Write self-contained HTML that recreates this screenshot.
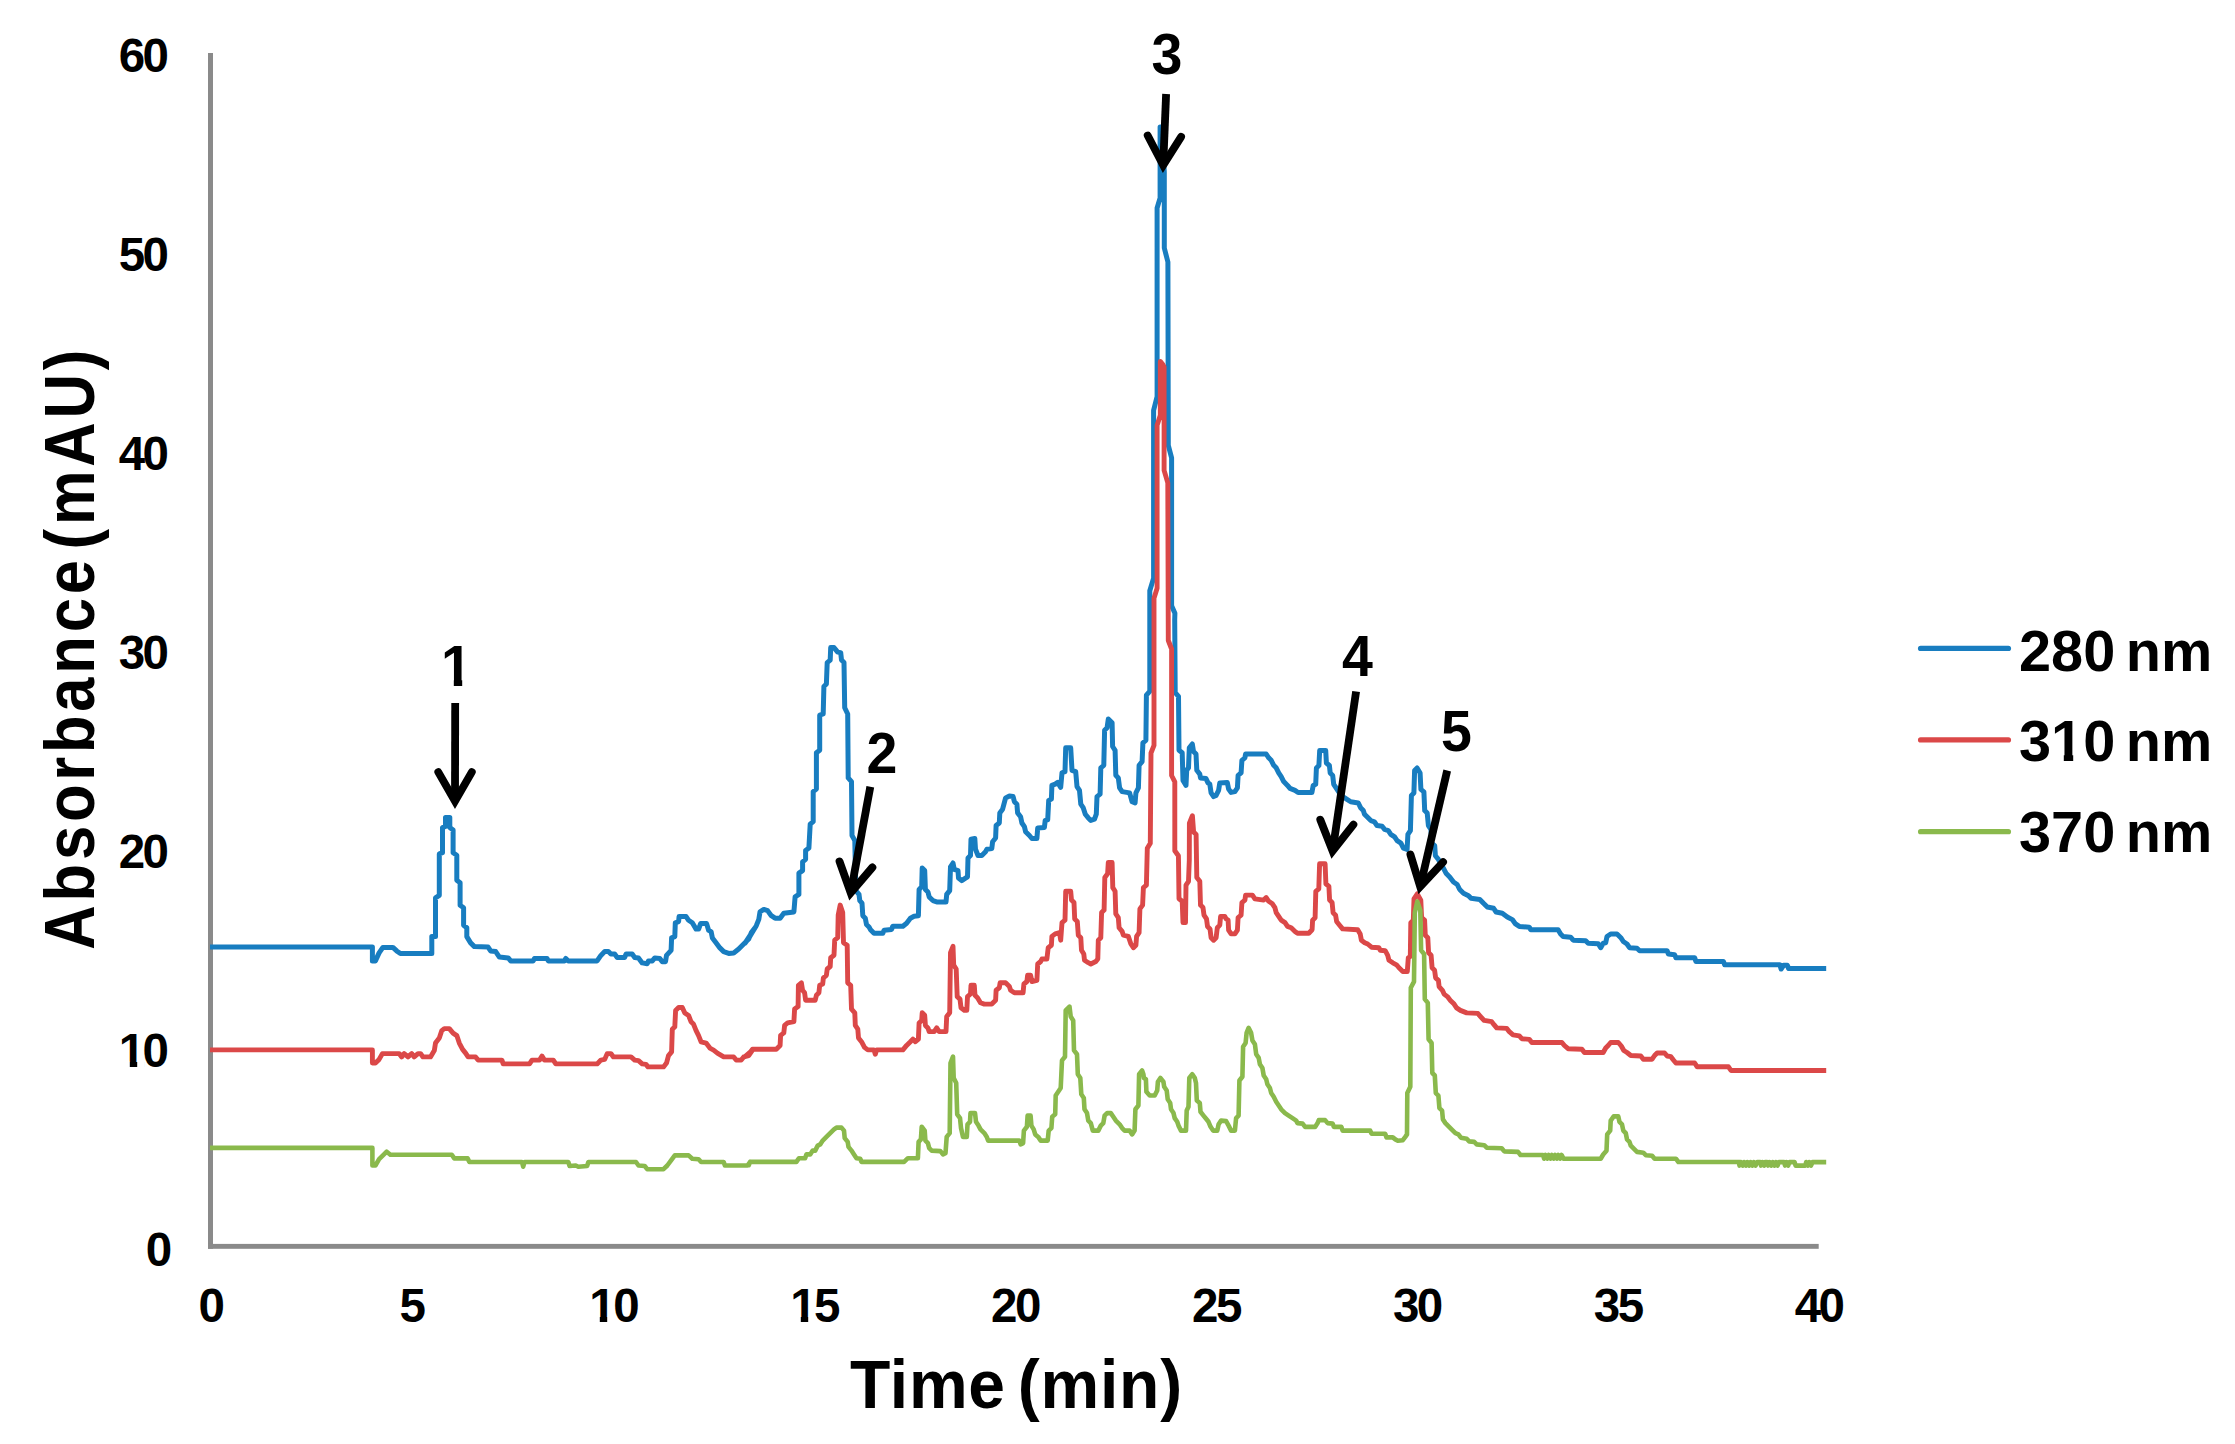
<!DOCTYPE html>
<html lang="en"><head><meta charset="utf-8"><title>HPLC chromatogram</title>
<style>
html,body{margin:0;padding:0;background:#fff;}
body{width:2235px;height:1444px;overflow:hidden;}
svg{display:block;}
text{font-family:"Liberation Sans",sans-serif;font-weight:bold;fill:#000;}
.tick{font-size:47.5px;letter-spacing:-2.5px;}
.leg{font-size:57.7px;word-spacing:-5.6px;}
.ann{font-size:55.5px;}
.title{font-size:66px;letter-spacing:0.75px;word-spacing:-7px;}
.ytitle{font-size:61.5px;letter-spacing:3.8px;word-spacing:-14px;}
.curve{fill:none;stroke-linejoin:round;stroke-linecap:butt;}
.shaft{fill:none;stroke:#000;stroke-width:7.8;stroke-linecap:butt;}
.head{fill:none;stroke:#000;stroke-width:7.8;stroke-linecap:round;stroke-linejoin:miter;stroke-miterlimit:10;}
</style></head>
<body>
<svg width="2235" height="1444" viewBox="0 0 2235 1444">
<rect width="2235" height="1444" fill="#fff"/>
<g id="axes">
<rect x="208" y="53" width="5" height="1195.8" fill="#8a8a8a"/>
<rect x="208" y="1243.9" width="1610.7" height="4.9" fill="#8a8a8a"/>
</g>
<g id="yticks">
<text class="tick" text-anchor="end" transform="translate(169.7,1265.5) scale(1,1.000)">0</text>
<text class="tick" text-anchor="end" transform="translate(166.5,1066.6) scale(1,1.000)">10</text>
<text class="tick" text-anchor="end" transform="translate(166.5,867.7) scale(1,1.000)">20</text>
<text class="tick" text-anchor="end" transform="translate(166.5,668.8) scale(1,1.000)">30</text>
<text class="tick" text-anchor="end" transform="translate(166.5,469.9) scale(1,1.000)">40</text>
<text class="tick" text-anchor="end" transform="translate(166.5,271.0) scale(1,1.000)">50</text>
<text class="tick" text-anchor="end" transform="translate(166.5,72.1) scale(1,1.000)">60</text>
</g>
<g id="xticks">
<text class="tick" text-anchor="middle" transform="translate(210.5,1321.8) scale(1,1.000)">0</text>
<text class="tick" text-anchor="middle" transform="translate(411.4,1321.8) scale(1,1.000)">5</text>
<text class="tick" text-anchor="middle" transform="translate(613.2,1321.8) scale(1,1.000)">10</text>
<text class="tick" text-anchor="middle" transform="translate(814.1,1321.8) scale(1,1.000)">15</text>
<text class="tick" text-anchor="middle" transform="translate(1015.0,1321.8) scale(1,1.000)">20</text>
<text class="tick" text-anchor="middle" transform="translate(1215.9,1321.8) scale(1,1.000)">25</text>
<text class="tick" text-anchor="middle" transform="translate(1416.8,1321.8) scale(1,1.000)">30</text>
<text class="tick" text-anchor="middle" transform="translate(1617.7,1321.8) scale(1,1.000)">35</text>
<text class="tick" text-anchor="middle" transform="translate(1818.6,1321.8) scale(1,1.000)">40</text>
</g>
<text class="title" text-anchor="middle" transform="translate(1016.4,1407.8) scale(1,1.048)">Time (min)</text>
<text class="ytitle" text-anchor="middle" transform="translate(93.5,647.8) rotate(-90) scale(1,1.151)">Absorbance (mAU)</text>
<g id="curves">
<polyline class="curve" stroke="#187dc0" stroke-width="5.0" points="210.0,947.1 372.4,947.1 372.4,960.9 375.4,960.9 379.1,952.9 382.9,947.4 392.9,947.4 396.7,950.9 400.4,953.6 431.8,953.6 431.8,936.6 435.5,936.6 435.5,897.8 439.3,895.3 439.3,853.9 442.5,852.7 442.5,827.6 445.5,826.4 445.5,817.6 449.8,817.6 449.8,827.6 453.1,830.1 453.1,852.7 456.8,855.2 456.8,880.2 460.1,882.7 460.1,905.3 463.6,907.8 463.6,925.3 466.8,927.8 466.8,936.6 470.6,942.9 474.4,946.6 488.1,947.1 490.6,950.9 495.7,951.6 499.4,957.1 508.2,957.9 510.7,960.9 533.2,960.9 534.5,958.4 547.0,958.4 548.3,960.9 564.6,960.9 565.8,958.4 568.3,960.9 597.1,960.9 600.9,955.4 604.7,951.6 608.4,951.6 610.9,954.1 614.7,954.1 617.2,957.4 624.7,957.4 626.0,954.1 632.2,954.1 634.7,957.4 638.5,957.9 642.2,962.9 647.2,963.7 648.5,960.9 652.3,960.9 654.8,957.9 659.8,958.4 662.3,961.7 665.5,961.7 666.5,955.4 671.1,950.4 671.6,937.9 674.8,936.6 675.3,922.8 678.6,921.6 679.1,916.6 686.1,916.6 688.6,920.3 692.3,922.8 696.1,929.1 698.6,929.1 700.6,923.6 706.6,923.6 708.6,930.3 711.1,931.6 712.4,937.9 716.2,942.9 719.9,947.9 723.7,951.6 728.7,953.4 733.7,952.9 738.7,949.1 743.7,944.1 748.7,939.1 751.2,932.8 755.0,927.8 745.0,943.2 748.8,938.2 752.5,931.9 756.3,925.7 758.8,919.4 760.0,911.9 763.8,909.4 767.6,910.6 771.3,915.7 775.1,918.2 780.1,918.2 783.8,913.2 793.9,911.9 795.1,896.9 798.9,894.4 798.9,873.1 802.6,870.6 802.6,861.8 805.6,859.3 805.6,850.5 808.9,848.0 810.2,824.2 813.2,821.7 813.2,791.6 816.4,789.1 816.4,752.8 819.7,750.3 819.7,715.2 823.2,714.0 823.9,686.4 826.4,683.9 827.2,662.6 830.2,660.1 830.7,647.6 834.0,647.6 837.7,652.1 840.7,652.6 841.5,660.1 844.0,662.6 844.7,707.7 847.7,714.0 848.2,777.9 851.5,781.6 852.0,835.5 854.8,840.5 855.8,890.6 859.0,894.4 859.8,900.6 862.0,903.1 862.8,915.7 865.3,918.2 866.5,924.4 869.0,926.9 870.3,929.4 874.0,933.2 882.8,933.2 884.1,930.2 891.6,929.4 892.8,926.2 902.9,926.2 906.6,923.2 910.4,918.2 914.1,916.2 918.4,915.7 919.1,889.4 921.7,886.8 922.2,868.1 924.7,870.6 925.4,889.4 927.9,891.9 929.2,896.9 932.9,900.6 936.7,901.9 946.0,901.9 946.7,894.4 949.7,890.6 950.5,866.8 953.0,863.0 954.2,869.3 958.0,870.6 958.5,878.1 961.7,880.6 965.5,878.1 967.5,876.8 968.0,858.0 970.5,855.5 971.0,839.2 974.8,838.5 975.5,849.3 978.0,855.5 981.8,855.5 985.5,851.8 986.8,849.3 991.8,848.5 992.6,841.7 995.6,838.0 996.1,825.5 999.3,823.0 999.8,812.9 1002.6,809.2 1005.6,797.9 1009.4,796.1 1013.1,796.6 1014.4,801.7 1016.9,804.2 1017.6,812.9 1020.6,816.7 1021.9,823.0 1024.4,826.7 1025.6,831.7 1029.4,835.5 1031.9,838.5 1036.9,838.5 1037.7,828.0 1044.4,827.5 1045.2,820.4 1047.7,819.9 1048.7,800.4 1051.4,799.1 1051.9,785.4 1055.2,784.1 1057.7,782.4 1060.7,787.4 1062.0,772.8 1065.0,771.6 1065.7,747.8 1070.7,747.8 1072.0,770.3 1075.7,771.6 1077.0,786.6 1079.5,790.4 1080.8,804.2 1083.3,807.9 1085.3,814.2 1088.3,817.9 1090.8,820.4 1094.5,819.2 1096.3,814.2 1097.0,796.6 1100.1,794.1 1100.8,767.8 1103.8,765.3 1104.6,730.2 1107.1,727.7 1108.3,719.0 1112.1,722.7 1112.6,746.5 1115.1,750.3 1115.8,775.3 1118.3,777.9 1119.6,787.9 1122.1,791.6 1129.6,792.9 1132.1,801.7 1135.1,802.9 1135.9,792.9 1138.4,787.9 1139.1,765.3 1142.1,761.6 1142.9,742.8 1145.9,740.3 1146.4,695.2 1149.7,691.4 1149.8,691.0 1149.8,590.7 1153.6,578.1 1153.6,410.3 1157.1,396.5 1157.1,208.0 1160.1,198.0 1160.1,127.0 1161.5,127.0 1164.3,172.0 1164.3,248.0 1167.9,262.0 1168.3,445.3 1171.6,457.9 1171.6,605.7 1174.9,613.2 1174.7,620.0 1175.2,692.7 1178.5,696.4 1179.0,750.3 1182.2,752.8 1183.0,780.4 1186.0,785.4 1186.7,770.3 1188.5,767.8 1189.3,747.8 1192.3,744.0 1193.5,751.5 1196.0,754.0 1196.8,770.3 1199.8,774.1 1200.5,777.9 1206.0,778.6 1208.0,782.9 1209.8,784.1 1211.1,792.9 1213.6,796.6 1216.1,795.4 1218.6,790.4 1219.8,782.9 1227.3,782.4 1228.6,789.1 1231.1,792.4 1234.9,791.6 1237.4,787.9 1238.1,775.3 1241.1,772.8 1241.9,760.3 1244.9,757.8 1245.6,754.0 1266.2,754.0 1268.7,757.8 1271.2,760.3 1273.7,765.3 1276.2,767.8 1278.7,772.8 1281.2,776.6 1283.7,781.6 1287.5,785.4 1290.0,788.4 1295.0,790.4 1298.1,792.5 1311.9,792.5 1313.2,785.5 1315.7,784.3 1316.4,768.0 1318.9,765.5 1319.7,750.4 1325.7,750.4 1326.4,763.0 1329.4,765.5 1330.2,773.0 1332.7,775.5 1333.7,784.3 1336.2,788.0 1339.5,793.0 1343.2,796.8 1347.0,799.3 1350.7,801.8 1358.3,803.0 1360.8,808.1 1363.3,810.6 1364.5,814.3 1368.3,818.1 1370.8,820.6 1374.5,821.8 1377.0,825.6 1382.1,826.3 1384.6,829.4 1388.3,830.6 1390.8,834.4 1394.6,836.9 1397.1,840.6 1400.9,843.1 1403.4,848.1 1407.1,849.4 1407.9,834.4 1410.4,830.6 1411.4,795.5 1413.9,793.0 1414.6,770.5 1417.1,768.0 1420.1,773.0 1420.9,789.3 1423.9,791.8 1424.7,810.6 1427.2,813.1 1428.4,825.6 1430.9,829.4 1431.7,843.1 1434.7,845.6 1435.4,855.7 1438.4,859.4 1440.9,864.4 1443.4,868.2 1446.0,873.2 1449.7,877.0 1453.5,882.0 1457.2,884.5 1459.7,889.5 1463.5,893.2 1468.5,895.7 1471.0,898.3 1479.8,899.5 1483.5,903.3 1487.3,907.0 1493.6,908.3 1496.1,912.0 1502.3,913.3 1507.3,917.0 1512.3,919.6 1515.5,923.9 1519.3,926.4 1529.3,927.2 1530.6,929.7 1558.1,929.7 1560.6,934.0 1563.1,936.5 1570.6,937.2 1573.2,940.2 1585.7,940.7 1588.2,943.2 1598.2,943.7 1600.7,947.7 1603.2,943.2 1605.7,942.7 1607.0,936.5 1610.7,934.0 1617.0,934.0 1620.8,937.7 1623.3,941.5 1627.0,944.0 1629.5,947.7 1637.0,948.2 1639.6,950.7 1667.1,950.7 1668.4,954.0 1674.6,954.8 1675.9,957.8 1694.7,957.8 1695.9,961.5 1723.5,961.5 1724.7,964.8 1779.9,964.8 1781.1,969.0 1783.6,965.3 1787.4,965.3 1788.6,968.5 1826.2,968.5"/>
<polyline class="curve" stroke="#db4848" stroke-width="4.9" points="210.0,1049.9 372.4,1049.9 372.4,1063.1 375.4,1063.1 379.1,1059.4 382.4,1053.6 399.2,1053.6 401.7,1056.9 404.2,1053.6 408.0,1056.9 411.7,1053.6 414.2,1056.9 418.0,1053.6 420.5,1053.6 423.0,1056.9 430.5,1056.9 434.3,1050.6 435.5,1043.1 439.3,1038.1 441.8,1030.6 444.3,1028.6 449.3,1028.6 453.1,1033.1 456.8,1035.6 459.3,1043.1 462.6,1049.4 465.6,1053.1 468.1,1056.9 475.6,1056.9 478.1,1060.1 501.9,1060.1 503.2,1063.9 529.5,1063.9 532.0,1060.1 539.5,1060.1 542.0,1056.1 544.5,1060.1 553.3,1060.1 555.8,1063.9 597.1,1063.9 600.9,1060.1 604.7,1059.4 607.2,1053.6 610.9,1053.6 613.4,1056.9 631.0,1056.9 634.7,1060.1 638.5,1060.6 642.2,1063.9 646.0,1064.4 648.0,1066.9 663.5,1066.9 666.5,1063.1 668.5,1055.6 671.6,1051.9 672.3,1029.3 674.8,1026.8 675.6,1010.5 678.6,1007.5 682.3,1007.5 684.8,1013.0 688.6,1015.5 691.1,1021.8 693.6,1024.3 696.1,1030.6 698.6,1035.6 701.1,1041.8 706.1,1043.1 709.9,1048.1 713.6,1050.1 717.4,1053.1 723.7,1056.9 733.7,1056.9 736.2,1060.1 741.2,1060.1 743.7,1056.9 748.7,1055.6 752.5,1050.1 745.0,1056.7 748.8,1054.2 752.5,1049.2 776.3,1049.2 780.1,1045.4 780.6,1035.4 783.8,1032.9 784.6,1025.4 787.6,1022.9 793.9,1021.6 794.6,1009.1 798.1,1006.6 798.4,985.3 801.4,982.8 802.6,990.3 804.6,992.8 805.6,1000.3 815.2,1000.3 816.4,995.3 818.9,992.8 819.7,985.3 822.7,984.0 823.4,977.8 826.4,975.3 827.2,969.0 830.2,966.5 830.7,957.7 834.0,955.2 834.7,940.2 837.7,937.7 838.2,915.1 840.2,905.1 842.7,912.6 843.5,942.7 847.2,945.2 847.7,982.8 850.7,985.3 851.5,1009.1 854.8,1012.8 855.3,1025.4 857.8,1029.1 858.5,1037.9 861.5,1041.7 864.5,1047.4 867.8,1049.9 874.0,1049.9 875.3,1054.2 876.6,1049.9 902.9,1049.9 906.6,1045.4 910.4,1041.7 912.9,1039.1 915.4,1041.7 918.4,1039.1 919.1,1022.9 921.7,1020.4 922.2,1012.8 924.7,1015.3 925.4,1025.4 927.9,1027.9 929.2,1031.6 934.2,1031.6 936.7,1027.9 939.2,1031.6 946.0,1031.6 946.7,1016.6 949.7,1012.8 950.5,952.7 953.0,946.4 953.7,965.2 956.2,969.0 957.2,996.6 960.0,999.1 961.0,1007.8 964.3,1010.3 966.8,1010.3 967.5,996.6 970.5,994.0 971.0,985.3 974.3,985.3 975.0,995.3 977.5,997.8 980.5,1002.8 984.3,1004.1 991.8,1004.1 995.6,1000.3 996.1,990.3 999.3,987.8 1000.1,982.8 1005.6,982.8 1009.4,986.5 1010.6,990.3 1014.4,992.8 1023.1,992.8 1023.9,984.0 1026.9,981.5 1027.6,975.3 1030.6,975.3 1031.9,981.5 1036.9,980.3 1037.7,964.0 1040.7,961.5 1041.9,959.0 1046.9,959.0 1048.2,947.7 1051.4,945.2 1051.9,936.4 1055.2,933.9 1059.5,932.7 1060.7,940.2 1062.0,922.6 1065.0,920.1 1065.7,891.3 1070.7,891.3 1071.5,900.1 1074.0,902.6 1074.7,918.9 1077.3,921.4 1078.3,935.2 1080.8,937.7 1081.5,950.2 1083.8,954.0 1084.5,960.2 1088.3,962.7 1090.8,964.0 1095.8,961.5 1097.8,959.0 1098.3,940.2 1100.8,937.7 1101.6,912.6 1104.1,910.1 1104.8,877.5 1107.6,873.8 1108.3,862.5 1112.1,862.5 1112.8,887.6 1115.1,891.3 1115.8,913.9 1118.3,917.6 1119.1,927.7 1122.1,931.4 1123.4,935.2 1128.4,936.4 1130.9,943.9 1133.4,947.7 1135.9,945.2 1136.6,936.4 1139.1,932.7 1139.9,908.9 1142.6,905.1 1143.4,887.6 1146.4,885.1 1147.3,848.2 1150.3,843.2 1151.0,753.0 1154.0,745.4 1154.0,598.2 1157.1,588.2 1157.1,425.3 1160.3,415.3 1160.3,361.4 1162.5,364.0 1164.1,367.0 1164.1,470.4 1167.8,482.9 1168.3,640.5 1171.6,649.0 1171.6,775.5 1174.8,781.8 1174.8,850.7 1178.4,855.7 1178.5,860.0 1179.0,898.8 1182.2,901.3 1183.0,922.6 1185.5,922.6 1186.0,885.1 1188.5,881.3 1189.3,860.0 1189.4,823.2 1192.4,815.7 1193.6,831.9 1196.1,834.4 1196.8,877.5 1199.8,881.3 1200.5,905.1 1203.0,907.6 1204.0,915.1 1206.5,918.9 1207.5,926.4 1210.0,928.9 1211.1,937.7 1213.6,940.2 1216.1,937.7 1217.3,927.7 1219.8,925.1 1220.6,916.4 1224.8,916.4 1226.1,918.9 1228.1,920.1 1228.6,930.2 1231.1,933.9 1234.9,933.9 1237.4,930.2 1238.1,917.6 1241.1,915.1 1241.9,902.6 1244.9,900.1 1245.6,895.1 1252.4,895.1 1254.9,898.8 1263.7,900.1 1266.2,897.6 1268.7,901.3 1272.4,903.8 1274.9,907.6 1276.2,912.6 1278.7,916.4 1281.2,920.1 1285.0,922.6 1287.5,926.4 1291.2,927.7 1295.0,931.4 1297.5,933.2 1308.8,933.2 1312.1,929.7 1312.6,920.2 1315.1,917.7 1315.8,891.4 1318.8,888.9 1319.6,863.8 1325.1,863.8 1325.9,883.8 1328.9,886.4 1329.6,900.1 1332.1,902.6 1333.1,912.7 1335.6,915.2 1336.6,921.4 1339.6,925.2 1342.6,928.9 1357.7,929.7 1360.2,934.0 1361.4,940.2 1364.7,942.7 1367.7,944.0 1371.5,947.2 1379.0,947.7 1380.2,950.2 1385.2,950.7 1387.7,955.3 1389.0,960.3 1392.8,962.8 1396.5,964.8 1399.0,967.8 1402.8,971.5 1407.3,971.5 1408.3,957.8 1410.3,956.5 1410.8,922.7 1413.3,920.2 1414.0,898.9 1417.3,893.9 1420.8,900.1 1421.6,917.7 1424.6,920.2 1425.3,935.2 1427.8,937.7 1428.6,952.8 1431.1,955.3 1432.1,967.8 1434.6,970.3 1435.6,977.8 1438.4,980.3 1439.1,986.6 1442.4,990.3 1444.1,994.1 1447.4,996.6 1450.4,1000.4 1454.1,1004.1 1456.6,1007.9 1460.4,1010.4 1466.7,1012.9 1477.9,1013.4 1480.4,1016.6 1484.2,1020.4 1491.7,1021.7 1494.2,1024.9 1496.7,1027.9 1506.8,1028.4 1509.3,1031.7 1513.0,1034.9 1519.3,1035.9 1521.8,1038.7 1529.3,1039.4 1531.8,1042.5 1561.9,1042.5 1564.4,1045.5 1568.1,1048.7 1581.9,1049.2 1584.4,1052.5 1603.2,1052.5 1605.7,1048.0 1608.2,1045.5 1610.7,1042.5 1618.3,1042.5 1621.3,1046.0 1623.8,1050.5 1627.0,1052.5 1630.8,1055.5 1640.8,1056.0 1643.3,1059.2 1652.1,1059.2 1654.6,1055.5 1657.1,1053.0 1664.6,1053.0 1667.1,1056.0 1670.9,1056.7 1673.4,1060.0 1675.9,1063.0 1694.7,1063.0 1697.2,1066.8 1728.5,1066.8 1731.0,1070.5 1826.2,1070.5"/>
<polyline class="curve" stroke="#8ab94c" stroke-width="4.6" points="210.0,1147.9 372.4,1147.9 372.4,1165.5 375.4,1165.5 379.1,1159.2 384.2,1154.2 386.7,1151.7 390.4,1154.7 451.8,1154.7 454.3,1158.4 467.6,1158.4 469.4,1162.0 522.0,1162.0 523.2,1166.7 524.5,1162.0 568.3,1162.0 569.6,1166.0 575.8,1165.5 578.3,1166.7 587.1,1166.0 588.4,1162.0 636.0,1162.0 638.5,1165.5 644.7,1166.0 647.2,1169.2 663.5,1169.2 667.3,1165.5 671.1,1160.4 674.8,1155.4 688.6,1155.4 692.3,1158.7 698.6,1159.2 701.1,1162.0 723.7,1162.0 724.9,1165.5 747.5,1165.5 750.0,1162.0 748.8,1165.2 750.0,1161.9 796.4,1161.9 798.9,1158.2 805.1,1158.2 806.4,1154.4 810.2,1154.4 812.7,1150.6 815.2,1150.6 817.7,1145.6 820.2,1144.4 822.7,1140.6 826.4,1136.9 830.2,1133.1 834.0,1129.4 836.5,1127.6 841.5,1127.6 844.0,1130.6 844.7,1138.1 847.7,1141.9 848.5,1146.9 851.5,1150.6 854.0,1154.4 856.5,1158.2 860.3,1158.7 861.5,1161.9 904.1,1161.9 907.9,1158.2 917.9,1158.2 918.6,1141.9 920.9,1139.4 921.7,1126.8 924.7,1130.6 925.4,1140.6 927.9,1143.1 929.2,1148.1 931.7,1150.6 940.4,1151.1 943.0,1154.4 945.5,1153.2 946.7,1136.9 949.7,1133.1 950.5,1063.0 953.0,1056.7 953.7,1078.0 956.2,1083.0 957.2,1114.3 960.0,1118.1 961.0,1128.1 963.0,1136.9 966.8,1136.9 967.5,1124.3 970.0,1121.8 970.5,1113.1 975.0,1113.1 976.0,1121.8 978.5,1125.6 980.5,1129.4 984.3,1133.1 986.8,1136.9 988.1,1140.6 1019.4,1140.6 1020.6,1144.4 1023.1,1143.1 1023.9,1130.6 1026.9,1126.8 1027.6,1115.6 1030.6,1115.6 1031.4,1125.6 1033.7,1129.4 1035.2,1134.4 1038.2,1136.9 1040.7,1140.6 1047.7,1140.6 1048.7,1130.6 1051.4,1128.1 1052.2,1116.8 1055.2,1114.3 1055.7,1095.5 1058.2,1091.8 1060.7,1088.0 1062.0,1060.4 1065.0,1056.7 1065.7,1010.3 1069.5,1006.6 1070.7,1016.6 1073.2,1020.4 1074.0,1050.4 1077.0,1054.2 1077.8,1074.2 1080.3,1078.0 1081.3,1094.3 1083.8,1098.0 1084.5,1109.3 1087.0,1113.1 1088.3,1120.6 1090.8,1123.1 1092.8,1130.6 1098.3,1130.6 1100.8,1125.6 1103.3,1123.1 1104.6,1115.6 1107.1,1113.1 1110.8,1113.1 1113.3,1116.8 1115.8,1120.6 1119.6,1124.3 1122.1,1128.1 1124.6,1130.6 1129.6,1130.6 1132.1,1134.4 1134.6,1130.6 1135.4,1109.3 1138.4,1105.5 1139.1,1074.2 1142.1,1070.5 1143.4,1074.2 1143.9,1078.0 1145.9,1079.2 1146.4,1091.8 1149.7,1095.5 1154.7,1095.5 1157.2,1090.5 1157.9,1081.7 1160.4,1078.0 1163.4,1081.7 1164.2,1086.8 1166.7,1090.5 1167.7,1099.3 1170.2,1103.0 1171.0,1109.3 1173.5,1113.1 1174.7,1118.1 1177.2,1121.8 1178.5,1125.6 1181.0,1130.6 1186.0,1130.6 1186.7,1110.6 1188.5,1106.8 1189.3,1078.0 1192.3,1074.2 1194.8,1078.0 1196.0,1083.0 1196.8,1100.5 1199.8,1103.0 1200.5,1111.8 1203.5,1115.6 1206.5,1119.3 1208.5,1121.8 1210.6,1126.8 1213.1,1130.6 1217.3,1130.6 1218.6,1124.3 1221.1,1120.6 1226.1,1121.1 1228.6,1125.6 1231.1,1130.6 1234.9,1130.6 1236.1,1118.1 1238.6,1115.6 1239.4,1080.5 1242.4,1076.7 1243.1,1046.7 1245.6,1042.9 1246.6,1032.9 1248.6,1027.9 1251.1,1032.9 1252.4,1040.4 1254.9,1044.2 1256.2,1054.2 1258.7,1057.9 1259.9,1064.2 1262.4,1068.0 1263.7,1075.5 1266.2,1079.2 1267.4,1084.3 1269.9,1088.0 1271.2,1093.0 1273.7,1096.8 1276.2,1101.8 1278.7,1105.5 1281.2,1109.3 1285.0,1113.1 1288.7,1115.6 1292.5,1118.1 1296.2,1120.6 1297.5,1123.1 1302.6,1123.6 1305.1,1126.9 1315.1,1126.9 1317.6,1123.1 1318.8,1120.1 1325.1,1120.1 1327.6,1123.1 1332.6,1123.6 1333.9,1126.9 1341.4,1126.9 1342.6,1130.6 1370.2,1130.6 1371.5,1133.7 1385.2,1133.7 1386.5,1137.4 1392.8,1137.4 1395.3,1139.4 1397.8,1140.7 1402.8,1140.2 1405.3,1136.9 1407.0,1134.4 1407.3,1093.1 1410.3,1086.8 1410.8,987.8 1414.0,981.6 1414.8,912.7 1417.3,901.4 1420.3,910.2 1421.1,950.2 1424.1,954.0 1424.8,999.1 1427.8,1002.9 1428.6,1039.2 1431.6,1043.0 1432.3,1073.0 1434.8,1075.5 1435.8,1093.1 1438.4,1095.6 1439.4,1108.1 1442.1,1110.6 1442.9,1119.4 1445.4,1123.1 1449.1,1126.9 1451.6,1129.4 1455.4,1133.2 1458.4,1134.4 1460.9,1137.7 1466.7,1138.7 1469.2,1141.4 1474.2,1141.9 1476.7,1144.4 1484.2,1145.2 1486.7,1147.7 1501.7,1148.2 1504.3,1151.4 1518.0,1151.9 1520.5,1155.0 1543.1,1155.0 1544.1,1158.7 1545.7,1155.0 1547.3,1158.7 1548.9,1155.0 1550.5,1158.7 1552.1,1155.0 1553.7,1158.7 1555.3,1155.0 1556.9,1158.7 1558.5,1155.0 1560.1,1158.7 1561.7,1155.0 1563.6,1158.7 1600.7,1158.7 1603.2,1154.5 1606.5,1150.7 1607.2,1134.4 1610.2,1130.6 1610.7,1120.6 1613.7,1116.4 1618.3,1116.4 1619.5,1121.9 1622.0,1124.4 1623.3,1130.6 1625.8,1133.2 1627.0,1139.4 1629.5,1141.9 1630.8,1145.7 1634.5,1149.4 1637.0,1151.9 1643.3,1152.7 1645.8,1155.2 1652.1,1155.7 1654.6,1158.7 1675.9,1158.7 1678.4,1162.0 1739.8,1162.0 1738.8,1162.1 1739.5,1165.6 1741.1,1162.1 1742.7,1165.6 1744.3,1162.1 1745.9,1165.6 1747.5,1162.1 1749.1,1165.6 1750.7,1162.1 1752.3,1165.6 1753.9,1162.1 1755.5,1165.6 1757.3,1162.1 1760.3,1162.1 1761.0,1165.6 1762.6,1162.1 1764.2,1165.6 1765.0,1162.1 1767.2,1162.1 1768.0,1165.6 1769.6,1162.1 1771.2,1165.6 1772.8,1162.1 1774.4,1165.6 1776.0,1162.1 1777.6,1165.6 1778.8,1162.1 1784.2,1162.1 1785.0,1165.6 1786.6,1162.1 1788.2,1165.6 1789.4,1162.1 1794.6,1162.1 1795.6,1165.6 1805.4,1165.6 1806.2,1162.1 1807.8,1165.6 1809.4,1162.1 1811.0,1165.6 1812.6,1162.1 1814.0,1162.1 1826.2,1162.1"/>
</g>
<g id="legend">
<line x1="1920.6" x2="2008.4" y1="648.4" y2="648.4" stroke="#187dc0" stroke-width="5.3" stroke-linecap="round"/>
<text class="leg" text-anchor="start" transform="translate(2019.0,671.4) scale(1,0.980)">280 nm</text>
<line x1="1920.6" x2="2008.4" y1="739.9" y2="739.9" stroke="#db4848" stroke-width="5.3" stroke-linecap="round"/>
<text class="leg" text-anchor="start" transform="translate(2019.0,761.4) scale(1,0.980)">310 nm</text>
<line x1="1920.6" x2="2008.4" y1="831.7" y2="831.7" stroke="#8ab94c" stroke-width="5.3" stroke-linecap="round"/>
<text class="leg" text-anchor="start" transform="translate(2019.0,852.2) scale(1,0.980)">370 nm</text>
</g>
<g id="annotations">
<text class="ann" text-anchor="middle" transform="translate(456.3,685.8) scale(1,1.030)">1</text>
<path class="shaft" d="M455.2 703.0 L455.0 801.1"/>
<path class="head" d="M471.8 772.1 L455.0 801.1 L438.3 772.1"/>
<text class="ann" text-anchor="middle" transform="translate(882.0,773.4) scale(1,1.030)">2</text>
<path class="shaft" d="M870.3 786.7 L850.7 892.9"/>
<path class="head" d="M872.4 867.4 L850.7 892.9 L839.5 861.4"/>
<text class="ann" text-anchor="middle" transform="translate(1167.0,74.4) scale(1,1.030)">3</text>
<path class="shaft" d="M1166.1 94.0 L1163.2 165.2"/>
<path class="head" d="M1181.1 136.9 L1163.2 165.2 L1147.7 135.5"/>
<text class="ann" text-anchor="middle" transform="translate(1357.5,676.0) scale(1,1.030)">4</text>
<path class="shaft" d="M1356.1 691.5 L1332.6 850.9"/>
<path class="head" d="M1353.4 824.6 L1332.6 850.9 L1320.3 819.7"/>
<text class="ann" text-anchor="middle" transform="translate(1456.5,751.3) scale(1,1.030)">5</text>
<path class="shaft" d="M1447.2 770.5 L1420.2 886.6"/>
<path class="head" d="M1443.1 862.1 L1420.2 886.6 L1410.4 854.5"/>
</g>
<g id="glyph-trim" fill="#fff">
<rect x="442.5" y="679.7" width="11.3" height="7.5"/>
<rect x="462.2" y="679.7" width="9.6" height="7.5"/>
<rect x="590.5" y="1316.7" width="9.3" height="6.5"/>
<rect x="607.2" y="1316.7" width="8.6" height="6.5"/>
<rect x="791.5" y="1316.7" width="9.3" height="6.5"/>
<rect x="808.2" y="1316.7" width="8.6" height="6.5"/>
<rect x="119.5" y="1061.7" width="10.3" height="6.5"/>
<rect x="137.2" y="1061.7" width="7.6" height="6.5"/>
<rect x="2052.5" y="754.7" width="11.3" height="8.5"/>
<rect x="2073.2" y="754.7" width="9.6" height="8.5"/>
</g>
</svg>
</body></html>
